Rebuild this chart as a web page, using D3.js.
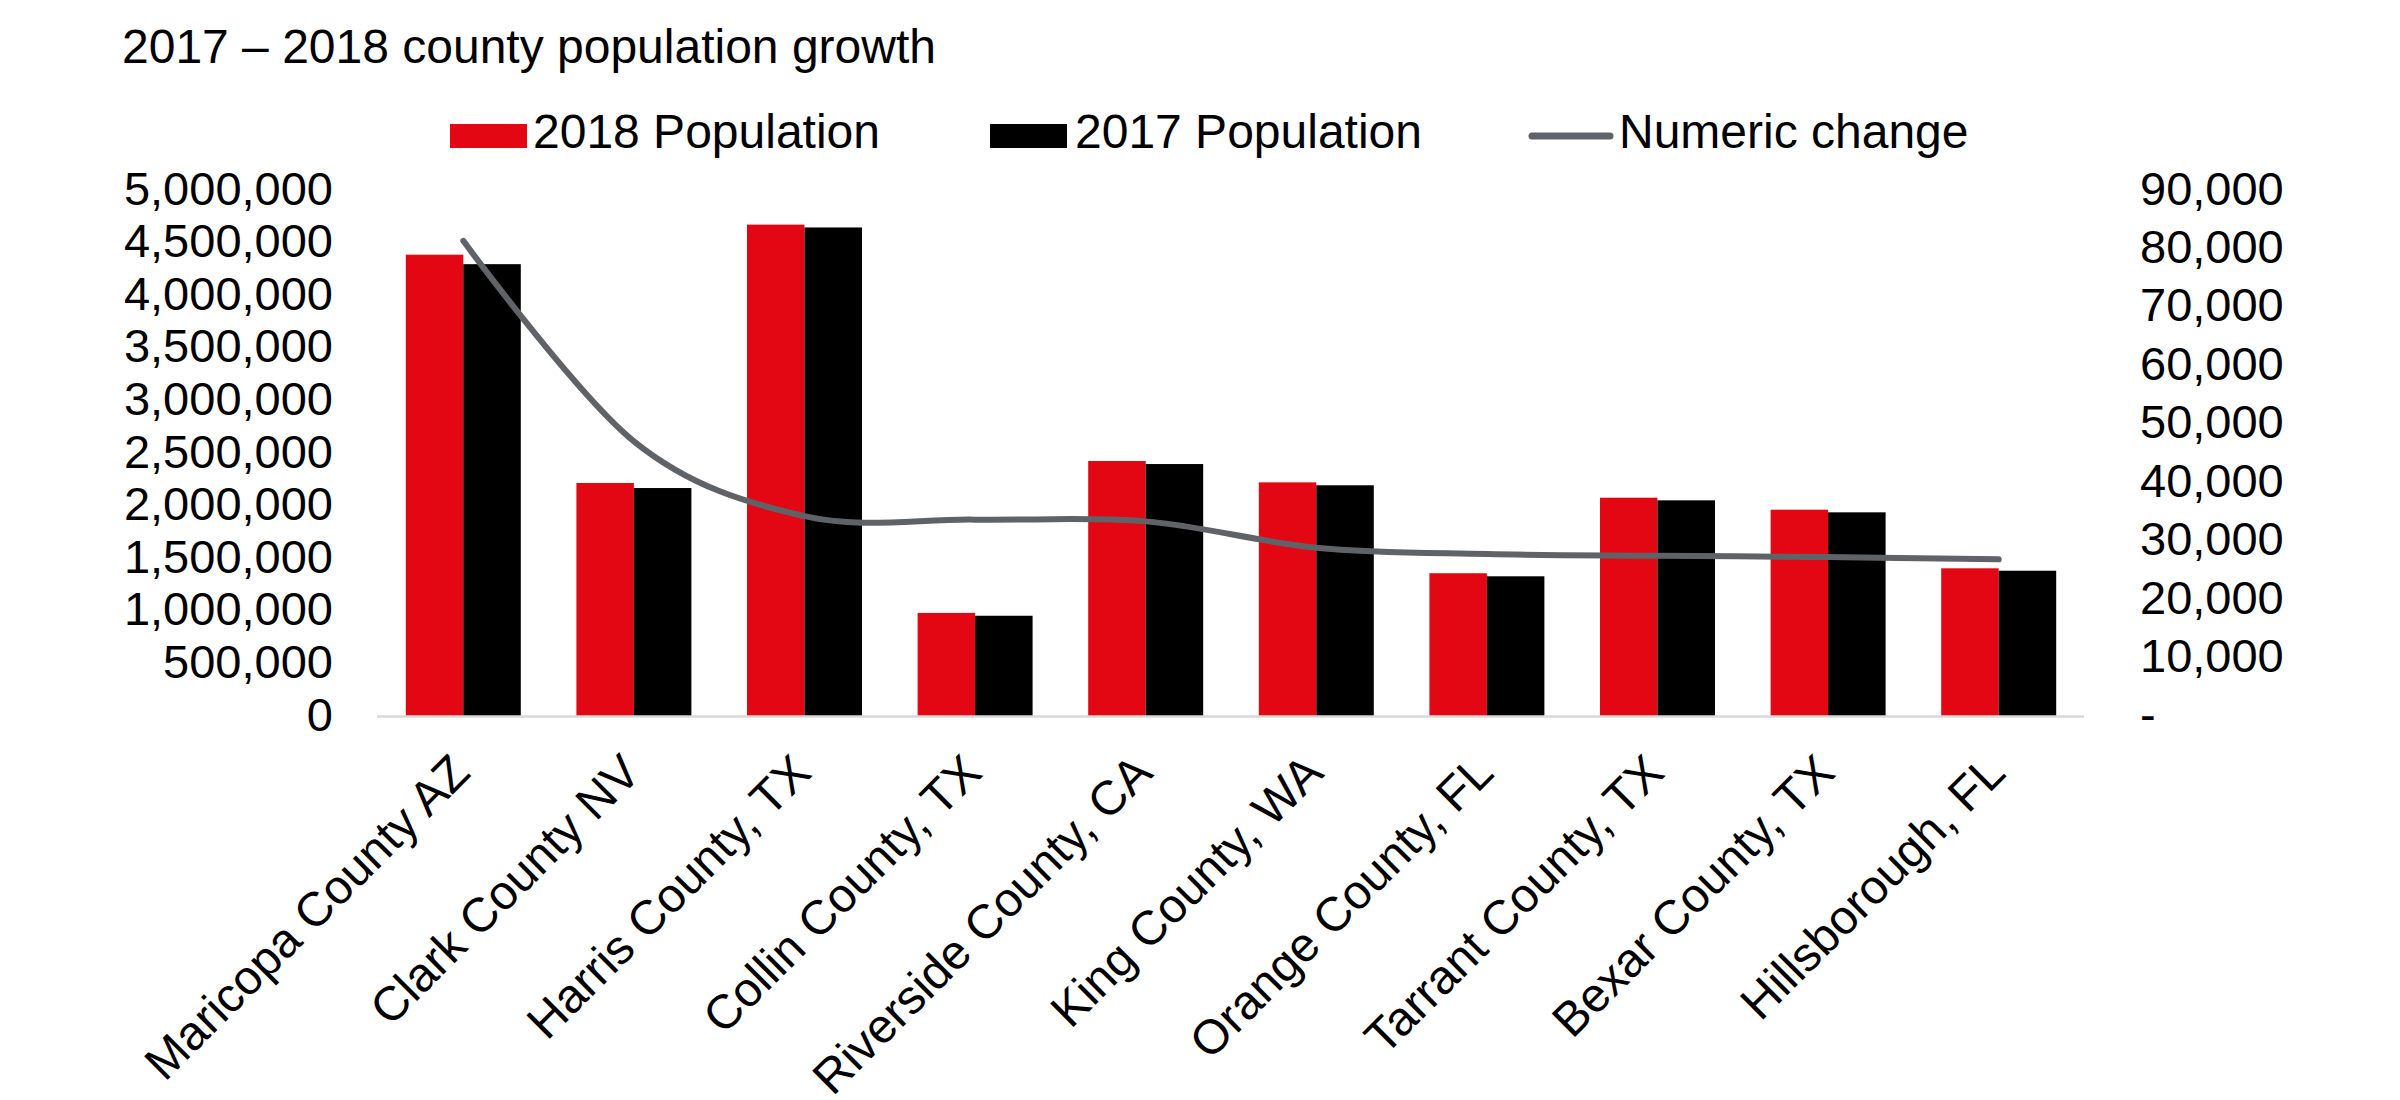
<!DOCTYPE html>
<html>
<head>
<meta charset="utf-8">
<script src="https://cdn.jsdelivr.net/npm/d3@7"></script>
<style>
  html, body { margin: 0; padding: 0; background: #ffffff; }
  svg { display: block; }
  text { font-family: "Liberation Sans", Arial, sans-serif; fill: #000; }
</style>
</head>
<body>
<svg id="chart" width="2400" height="1100"></svg>
<script>
// ---- Data ----
const categories = [
  "Maricopa County AZ", "Clark County NV", "Harris County, TX", "Collin County, TX",
  "Riverside County, CA", "King County, WA", "Orange County, FL", "Tarrant County, TX",
  "Bexar County, TX", "Hillsborough, FL"
];
const pop2018 = [4385000, 2215000, 4671000, 980000, 2424000, 2221000, 1357000, 2075000, 1961000, 1404000];
const pop2017 = [4295000, 2167000, 4644000, 953000, 2395000, 2193000, 1328000, 2050000, 1936000, 1381000];
const numericChange = [81300, 47000, 34200, 33600, 33300, 28800, 27700, 27400, 27200, 26800];

const leftTicks = [0, 500000, 1000000, 1500000, 2000000, 2500000, 3000000, 3500000, 4000000, 4500000, 5000000];
const rightTicks = [0, 10000, 20000, 30000, 40000, 50000, 60000, 70000, 80000, 90000];

const seriesNames = ["2018 Population", "2017 Population", "Numeric change"];
const seriesColors = ["#e30613", "#000000", "#5f6368"];

// ---- Layout ----
const svg = d3.select("#chart");
const plot = { left: 378, right: 2084, top: 190, bottom: 716 };

const x0 = d3.scaleBand().domain(categories).range([plot.left, plot.right])
  .paddingInner(0.326).paddingOuter(0.163);
const x1 = d3.scaleBand().domain([0, 1]).range([0, x0.bandwidth()]).padding(0);
const yL = d3.scaleLinear().domain([0, 5000000]).range([plot.bottom, plot.top]);
const yR = d3.scaleLinear().domain([0, 90000]).range([plot.bottom, plot.top]);

// Title
svg.append("text").attr("x", 122).attr("y", 63)
  .style("font-size", "48px").text("2017 \u2013 2018 county population growth");

// Legend
const lg = svg.append("g");
lg.append("rect").attr("x", 450).attr("y", 124).attr("width", 77).attr("height", 24).attr("fill", seriesColors[0]);
lg.append("text").attr("x", 533).attr("y", 148).style("font-size", "48px").text(seriesNames[0]);
lg.append("rect").attr("x", 990).attr("y", 124).attr("width", 77).attr("height", 24).attr("fill", seriesColors[1]);
lg.append("text").attr("x", 1075).attr("y", 148).style("font-size", "48px").text(seriesNames[1]);
lg.append("line").attr("x1", 1532).attr("x2", 1610).attr("y1", 136).attr("y2", 136)
  .attr("stroke", seriesColors[2]).attr("stroke-width", 7).attr("stroke-linecap", "round");
lg.append("text").attr("x", 1619).attr("y", 148).style("font-size", "48px").text(seriesNames[2]);

// Left axis labels
const leftAxis = d3.axisLeft(yL).tickValues(leftTicks).tickFormat(d3.format(",")).tickSize(0).tickPadding(0);
const gL = svg.append("g").attr("transform", `translate(333,0)`).call(leftAxis);
gL.select(".domain").remove();
gL.selectAll("text").style("font-size", "47px").style("font-family", "'Liberation Sans', Arial, sans-serif")
  .attr("fill", "#000").attr("dy", "0.3em");

// Right axis labels
const fmtR = d => d === 0 ? "-" : d3.format(",")(d);
const rightAxis = d3.axisRight(yR).tickValues(rightTicks).tickFormat(fmtR).tickSize(0).tickPadding(0);
const gR = svg.append("g").attr("transform", `translate(2140,0)`).call(rightAxis);
gR.select(".domain").remove();
gR.selectAll("text").style("font-size", "47px").style("font-family", "'Liberation Sans', Arial, sans-serif")
  .attr("fill", "#000").attr("dy", "0.3em").attr("text-anchor", "start");

// Bars
const rows = categories.map((c, i) => ({ c, vals: [pop2018[i], pop2017[i]] }));
const groups = svg.append("g").selectAll("g").data(rows).join("g")
  .attr("transform", d => `translate(${x0(d.c)},0)`);
groups.selectAll("rect").data(d => d.vals.map((v, k) => ({ v, k }))).join("rect")
  .attr("x", d => x1(d.k)).attr("width", x1.bandwidth())
  .attr("y", d => yL(d.v)).attr("height", d => yL(0) - yL(d.v))
  .attr("fill", d => seriesColors[d.k]);

// Category axis line
svg.append("line").attr("x1", plot.left - 1).attr("x2", plot.right).attr("y1", plot.bottom + 0.5).attr("y2", plot.bottom + 0.5)
  .attr("stroke", "#d9d9d9").attr("stroke-width", 2.5);

// Numeric change line (smoothed)
const line = d3.line()
  .x((d, i) => x0(categories[i]) + x0.bandwidth() / 2)
  .y(d => yR(d))
  .curve(d3.curveCardinal.tension(0));
svg.append("path").datum(numericChange).attr("d", line)
  .attr("fill", "none").attr("stroke", seriesColors[2]).attr("stroke-width", 6)
  .attr("stroke-linecap", "round").attr("stroke-linejoin", "round");

// Category labels (rotated)
svg.append("g").selectAll("text").data(categories).join("text")
  .attr("transform", d => `translate(${x0(d) + x0.bandwidth() / 2 + 9},775) rotate(-45)`)
  .attr("text-anchor", "end").style("font-size", "48px").text(d => d);
</script>
</body>
</html>
